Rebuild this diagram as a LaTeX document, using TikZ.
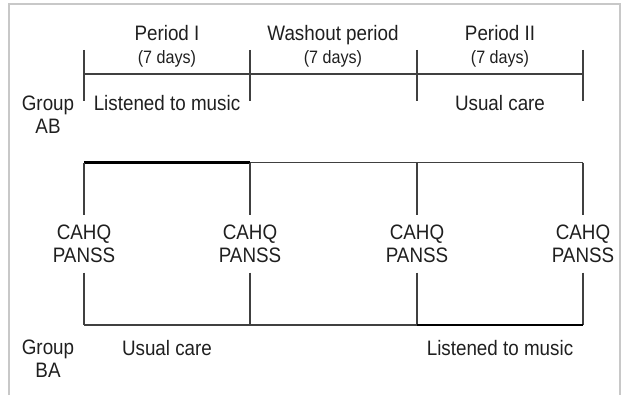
\documentclass[tikz,border=0pt]{standalone}
\usepackage{fontspec}
\setmainfont{Liberation Sans}[FakeStretch=0.9]
\usetikzlibrary{positioning}

\definecolor{framegray}{RGB}{200,200,200}

\begin{document}
\begin{tikzpicture}[
    x=0.02cm, y=-0.02cm,
    txt/.style={anchor=base, inner sep=0pt, text=black!88, font=\fontsize{11.9}{13}\selectfont},
    days/.style={txt, font=\fontsize{10.2}{12}\selectfont},
    grp/.style={txt, anchor=center, align=center},
    meas/.style={grp, inner xsep=0pt, inner ysep=5.4pt},
    tline/.style={black!75, line width=0.6pt},
    bline/.style={black, line width=1.4pt}
  ]
    \useasboundingbox (0,0) rectangle (621,395);
    \draw[framegray, line width=0.6pt] (9,395) -- (9,4) -- (620,4) -- (620,395);

    % Period headings
    \node[txt] (per1) at (167,41) {Period I};
    \node[days] (per1d) at (167,63.5) {(7 days)};
    \node[txt] (wash) at (333,41) {Washout period};
    \node[days] (washd) at (333,63.5) {(7 days)};
    \node[txt] (per2) at (500,41) {Period II};
    \node[days] (per2d) at (500,63.5) {(7 days)};

    % Time axis of group AB
    \coordinate (a1) at (84,74);
    \coordinate (a4) at (583,74);
    \coordinate (t1) at (84,50);   \coordinate (s1) at (84,101);
    \coordinate (t2) at (250,50);  \coordinate (s2) at (250,101);
    \coordinate (t3) at (417,50);  \coordinate (s3) at (417,101);
    \coordinate (t4) at (583,50);  \coordinate (s4) at (583,101);
    \draw[tline] (a1) -- (a4);
    \draw[tline] (t1) -- (s1);
    \draw[tline] (t2) -- (s2);
    \draw[tline] (t3) -- (s3);
    \draw[tline] (t4) -- (s4);

    \node[grp] (grpab) at (48,115) {Group\\AB};
    \node[txt] (abmusic) at (167,111) {Listened to music};
    \node[txt] (abcare) at (500,111) {Usual care};

    % Measurements
    \node[meas] (m1) at (84,244) {CAHQ\\PANSS};
    \node[meas] (m2) at (250,244) {CAHQ\\PANSS};
    \node[meas] (m3) at (417,244) {CAHQ\\PANSS};
    \node[meas] (m4) at (583,244) {CAHQ\\PANSS};

    \coordinate (u1) at (84,162.5);
    \coordinate (u2) at (250,162.5);
    \coordinate (u3) at (417,162.5);
    \coordinate (u4) at (583,162.5);
    \coordinate (d1) at (84,325);
    \coordinate (d2) at (250,325);
    \coordinate (d3) at (417,325);
    \coordinate (d4) at (583,325);

    \draw[tline] (u2) -- (u4);
    \draw[bline] (u1) -- (u2);
    \draw[tline] (u1) -- (m1.north);
    \draw[tline] (u2) -- (m2.north);
    \draw[tline] (u3) -- (m3.north);
    \draw[tline] (u4) -- (m4.north);
    \draw[tline] (m1.south) -- (d1);
    \draw[tline] (m2.south) -- (d2);
    \draw[tline] (m3.south) -- (d3);
    \draw[tline] (m4.south) -- (d4);
    \draw[tline] (d1) -- (d3);
    \draw[bline] (d3) -- (d4);

    % Group BA
    \node[grp] (grpba) at (48,359) {Group\\BA};
    \node[txt] (bacare) at (167,355) {Usual care};
    \node[txt] (bamusic) at (500,355) {Listened to music};
  \end{tikzpicture}
\end{document}
